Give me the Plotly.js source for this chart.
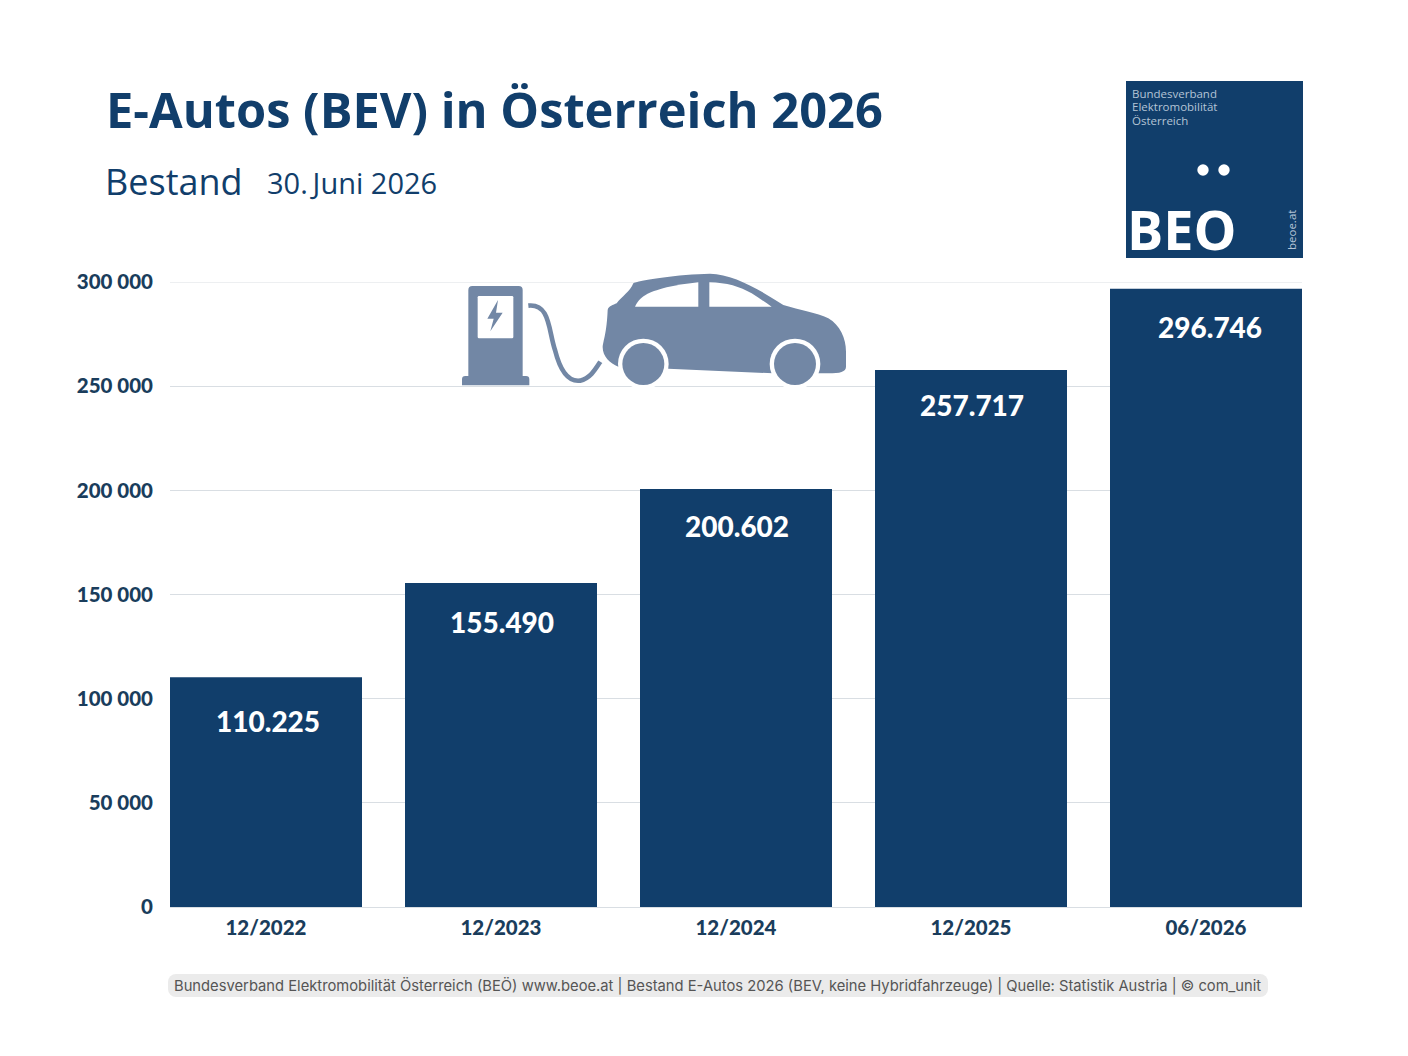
<!DOCTYPE html>
<html>
<head>
<meta charset="utf-8">
<script src="https://cdn.plot.ly/plotly-3.0.1.min.js"></script>
<style>
  body { margin: 0; background: #fff; }
</style>
</head>
<body>
<div id="plot"></div>
<script>
const categories = ['12/2022', '12/2023', '12/2024', '12/2025', '06/2026'];
const bestand = [110225, 155490, 200602, 257717, 296746];
const barLabels = ['110.225', '155.490', '200.602', '257.717', '296.746'];
const yTicks = [0, 50000, 100000, 150000, 200000, 250000, 300000];
const yTickLabels = ['0', '50 000', '100 000', '150 000', '200 000', '250 000', '300 000'];
const labelShiftX = [2, 1, 1, 1, 4];
const labelShiftY = [-44, -39, -37, -35, -38];

const W = 1408, H = 1056;
const dark = '#113E6B';
const icon = '#7287A5';
const tickColor = '#1A3D5C';
const logoText = '#B4C4D6';

// page pixels -> paper coords, plot area is 170..1302 / 282..907
const M = {l: 170, r: 106, t: 282, b: 149};
const px = x => (x - M.l) / (W - M.l - M.r);
const py = y => 1 - (y - M.t) / (H - M.t - M.b);

function pageText(x, y, text, size, color, opts) {
    return Object.assign({
        xref: 'paper', yref: 'paper', x: px(x), y: py(y),
        xanchor: 'left', yanchor: 'middle', showarrow: false, text: text,
        borderpad: 0,
        font: {family: '"Open Sans", sans-serif', size: size, color: color}
    }, opts || {});
}

function svgImage(x, y, w, h, body, layer) {
    const svg = `<svg xmlns="http://www.w3.org/2000/svg" width="${w}" height="${h}" viewBox="0 0 ${w * 3} ${h * 3}">${body}</svg>`;
    return {
        source: 'data:image/svg+xml;charset=utf-8,' + encodeURIComponent(svg),
        xref: 'paper', yref: 'paper', x: px(x), y: py(y),
        sizex: w / (W - M.l - M.r), sizey: h / (H - M.t - M.b),
        xanchor: 'left', yanchor: 'top', sizing: 'stretch', layer: layer || 'above'
    };
}

// charging station and car, traced at 3x
const carIcon = `
<path fill="${icon}" d="M97 78H236Q248 78 248 90V348H258Q268 348 268 358V376H66V358Q66 348 76 348H85V90Q85 78 97 78Z"/>
<rect x="113" y="108" width="107" height="127" rx="4" fill="#fff"/>
<path fill="${icon}" d="M174 120L142 176H161L151 214L188 158H168Z"/>
<path fill="none" stroke="${icon}" stroke-width="14" d="M265 137C330 130 325 210 345 270C365 350 395 365 420 362C450 355 465 330 481 305"/>
<path fill="${icon}" d="M580 70C590 62 720 42 810 41C880 42 960 90 1030 135C1080 150 1130 158 1165 175C1200 195 1218 235 1218 275V320C1218 335 1200 340 1165 340H1000L685 326L535 320C510 310 488 290 488 262C490 240 500 220 503 150C505 138 520 135 530 130C545 110 570 95 580 70Z"/>
<path fill="#fff" d="M585 140C600 110 620 98 680 82C710 75 745 70 775 67V140Z"/>
<path fill="#fff" d="M808 140V67C860 68 900 80 935 100C955 112 975 127 995 140Z"/>
<circle cx="610" cy="312" r="76" fill="#fff"/><circle cx="610" cy="312" r="63" fill="${icon}"/>
<circle cx="1065" cy="312" r="76" fill="#fff"/><circle cx="1065" cy="312" r="63" fill="${icon}"/>`;

const logoBg = `
<rect width="531" height="531" fill="${dark}"/>
<circle cx="231" cy="267" r="17" fill="#fff"/><circle cx="294" cy="267" r="17" fill="#fff"/>`;

const pill = `<rect width="3300" height="69" rx="24" fill="#EBEBEB"/>`;

const traces = [{
    type: 'bar',
    x: categories,
    y: bestand,
    marker: {color: dark},
    hovertemplate: '%{x}: %{y}<extra></extra>'
}];

const annotations = categories.map((c, i) => ({
    x: c, y: bestand[i], xref: 'x', yref: 'y',
    yshift: labelShiftY[i], xshift: labelShiftX[i], yanchor: 'middle',
    showarrow: false, text: barLabels[i],
    font: {family: 'Lato, sans-serif', size: 28, weight: 900, color: '#fff'}
}));

annotations.push(
    pageText(104.5, 109, 'E-Autos (BEV) in Österreich 2026', 48.8, dark, {font: {family: '"Open Sans", sans-serif', size: 48.8, weight: 700, color: dark}}),
    pageText(104, 181, 'Bestand', 36, dark),
    pageText(266, 183, '30.\u2009Juni 2026', 29, dark),
    pageText(1131, 93.5, 'Bundesverband', 11.5, logoText),
    pageText(1131, 107, 'Elektromobilität', 11.5, logoText),
    pageText(1131, 120.5, 'Österreich', 11.5, logoText),
    pageText(1126, 229, 'BEO', 54, '#fff', {font: {family: '"Open Sans", sans-serif', size: 54, weight: 700, color: '#fff'}}),
    pageText(1291, 230, 'beoe.at', 11.5, logoText, {xanchor: 'center', textangle: -90}),
    pageText(173, 985.5, 'Bundesverband Elektromobilität Österreich (BEÖ) www.beoe.at | Bestand E-Autos 2026 (BEV, keine Hybridfahrzeuge) | Quelle: Statistik Austria | © com_unit', 14.75, '#555', {font: {family: 'Inter, sans-serif', size: 14.75, color: '#555'}})
);

const layout = {
    width: W,
    height: H,
    autosize: false,
    margin: M,
    paper_bgcolor: '#fff',
    plot_bgcolor: '#fff',
    showlegend: false,
    bargap: 0.183,
    xaxis: {
        type: 'category',
        range: [-0.4085, 4.4085],
        showgrid: false,
        showline: true,
        linecolor: '#D9DEE3',
        linewidth: 1,
        ticks: '',
        ticklabelstandoff: 2,
        tickfont: {family: 'Lato, sans-serif', size: 20.5, weight: 900, color: tickColor}
    },
    yaxis: {
        range: [0, 300000],
        tickvals: yTicks,
        ticktext: yTickLabels,
        gridcolor: '#D9DEE3',
        gridwidth: 1,
        zeroline: false,
        showline: false,
        ticks: '',
        ticklabelstandoff: 16,
        tickfont: {family: 'Lato, sans-serif', size: 20.5, weight: 900, color: tickColor}
    },
    shapes: [{
        type: 'line', xref: 'paper', yref: 'y', layer: 'below',
        x0: 0, x1: 1, y0: 299900, y1: 299900,
        line: {color: '#E6E9EC', width: 1}
    }],
    annotations: annotations,
    images: [
        svgImage(440, 260, 420, 140, carIcon),
        svgImage(1126, 81, 177, 177, logoBg),
        svgImage(168, 974, 1100, 23, pill)
    ]
};

Plotly.newPlot('plot', traces, layout, {displayModeBar: false});
</script>
</body>
</html>
